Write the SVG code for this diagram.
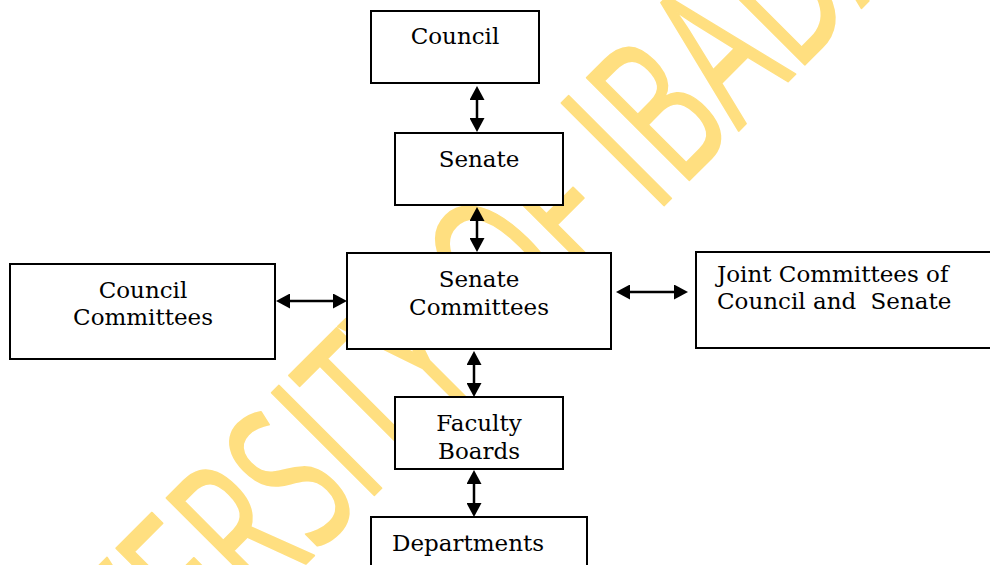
<svg xmlns="http://www.w3.org/2000/svg" width="990" height="565" viewBox="0 0 990 565">
<style>
.box{fill:#fff;stroke:#000;stroke-width:2}
.lbl{font-family:"DejaVu Serif","Liberation Serif",serif;font-size:23px;fill:#000}
.c{text-anchor:middle}
.wm{font-family:"Open Sans","Noto Sans",sans-serif;font-size:203px;fill:#FFDF80;stroke:#FFDF80;stroke-width:2;stroke-linejoin:round}
.arr{stroke:#000;stroke-width:2.5;fill:none;marker-start:url(#ah);marker-end:url(#ah)}
</style>
<defs>
<marker id="ah" viewBox="0 0 14 15" refX="8" refY="7.5" markerWidth="14" markerHeight="15" markerUnits="userSpaceOnUse" orient="auto-start-reverse">
<path d="M0,0 L14,7.5 L0,15 z" fill="#000"/>
</marker>
</defs>
<rect width="990" height="565" fill="#fff"/>
<g id="watermark">
<text class="wm" transform="translate(-3.5,873) rotate(-45) scale(0.63,1)" x="0" y="0">UNIVERSITY OF IBADAN</text>
</g>
<g id="council">
<rect class="box" x="371" y="11" width="168" height="72"/>
<text class="lbl c" x="455" y="44">Council</text>
</g>
<g id="senate">
<rect class="box" x="395" y="133" width="168" height="72"/>
<text class="lbl c" x="479" y="167">Senate</text>
</g>
<g id="senate-committees">
<rect class="box" x="347" y="253" width="264" height="96"/>
<text class="lbl c" x="479" y="287">Senate</text>
<text class="lbl c" x="479" y="315">Committees</text>
</g>
<g id="council-committees">
<rect class="box" x="10" y="264" width="265" height="95"/>
<text class="lbl c" x="143" y="297.5">Council</text>
<text class="lbl c" x="143" y="325">Committees</text>
</g>
<g id="joint-committees">
<rect class="box" x="696" y="252" width="310" height="96"/>
<text class="lbl" x="717" y="282">Joint Committees of</text>
<text class="lbl" x="717" y="308.5">Council and <tspan dx="7">Senate</tspan></text>
</g>
<g id="faculty-boards">
<rect class="box" x="395" y="397" width="168" height="72"/>
<text class="lbl c" x="479" y="431">Faculty</text>
<text class="lbl c" x="479" y="459">Boards</text>
</g>
<g id="departments">
<rect class="box" x="371" y="517" width="216" height="60"/>
<text class="lbl" x="392" y="551">Departments</text>
</g>
<g id="connectors">
<line class="arr" x1="477" y1="92" x2="477" y2="126"/>
<line class="arr" x1="477" y1="213" x2="477" y2="246"/>
<line class="arr" x1="474" y1="357" x2="474" y2="391"/>
<line class="arr" x1="474" y1="476" x2="474" y2="511"/>
<line class="arr" x1="282" y1="301" x2="341" y2="301"/>
<line class="arr" x1="622" y1="292" x2="682" y2="292"/>
</g>
</svg>
